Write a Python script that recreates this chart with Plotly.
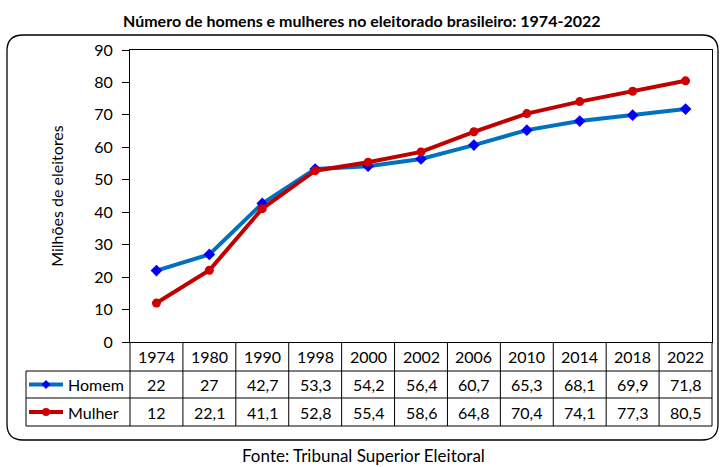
import plotly.graph_objects as go

anos = ["1974", "1980", "1990", "1998", "2000", "2002", "2006", "2010", "2014", "2018", "2022"]
homem = [22, 27, 42.7, 53.3, 54.2, 56.4, 60.7, 65.3, 68.1, 69.9, 71.8]
mulher = [12, 22.1, 41.1, 52.8, 55.4, 58.6, 64.8, 70.4, 74.1, 77.3, 80.5]
homem_txt = ["22", "27", "42,7", "53,3", "54,2", "56,4", "60,7", "65,3", "68,1", "69,9", "71,8"]
mulher_txt = ["12", "22,1", "41,1", "52,8", "55,4", "58,6", "64,8", "70,4", "74,1", "77,3", "80,5"]
y_ticks = [0, 10, 20, 30, 40, 50, 60, 70, 80, 90]

W, H = 723, 467
L, R, T, B = 130, 712, 50, 342
FONT = "Lato"

def px(x):
    return (x - L) / (R - L)

def py(y):
    return (B - y) / (B - T)

fig = go.Figure()
fig.add_trace(go.Scatter(x=anos, y=homem, mode="lines+markers", name="Homem",
                         line=dict(color="#0070C0", width=4),
                         marker=dict(symbol="diamond", size=9, color="#0000FF")))
fig.add_trace(go.Scatter(x=anos, y=mulher, mode="lines+markers", name="Mulher",
                         line=dict(color="#C00000", width=4),
                         marker=dict(symbol="circle", size=9, color="#D00000")))

shapes = []
ann = []

# rounded chart border
x0, x1, y0, y1, r = 7, 718, 35, 440, 16
path = (f"M {px(x0 + r)} {py(y0)} L {px(x1 - r)} {py(y0)} "
        f"Q {px(x1)} {py(y0)} {px(x1)} {py(y0 + r)} "
        f"L {px(x1)} {py(y1 - r)} Q {px(x1)} {py(y1)} {px(x1 - r)} {py(y1)} "
        f"L {px(x0 + r)} {py(y1)} Q {px(x0)} {py(y1)} {px(x0)} {py(y1 - r)} "
        f"L {px(x0)} {py(y0 + r)} Q {px(x0)} {py(y0)} {px(x0 + r)} {py(y0)} Z")
shapes.append(dict(type="path", path=path, xref="paper", yref="paper",
                   line=dict(color="black", width=1.3)))

# data table
rows = [342, 371, 398, 426]
LEG_L = 26
line_kw = dict(color="black", width=1)
for ry in rows[1:]:
    shapes.append(dict(type="line", xref="paper", yref="paper", x0=px(LEG_L), x1=px(R),
                       y0=py(ry), y1=py(ry), line=line_kw))
shapes.append(dict(type="line", xref="paper", yref="paper", x0=px(LEG_L), x1=px(LEG_L),
                   y0=py(rows[1]), y1=py(rows[3]), line=line_kw))
shapes.append(dict(type="line", xref="paper", yref="paper", x0=0, x1=0,
                   y0=py(rows[0]), y1=py(rows[3]), line=line_kw))
shapes.append(dict(type="line", xref="paper", yref="paper", x0=1, x1=1,
                   y0=py(rows[0]), y1=py(rows[3]), line=line_kw))
for i in range(1, len(anos)):
    shapes.append(dict(type="line", xref="x", yref="paper", x0=i - 0.5, x1=i - 0.5,
                       y0=py(rows[0]), y1=py(rows[3]), line=line_kw))

cell_font = dict(family=FONT, size=16, color="black")
centers = [(rows[k] + rows[k + 1]) / 2 for k in range(3)]
for i, a in enumerate(anos):
    for k, txt in enumerate([a, homem_txt[i], mulher_txt[i]]):
        ann.append(dict(x=i, y=py(centers[k]), xref="x", yref="paper", text=txt,
                        xanchor="center", yanchor="middle",
                        showarrow=False, font=cell_font))

# legend keys in table
for name, cy, lc, mc, kind in [("Homem", centers[1], "#0070C0", "#0000FF", "diamond"),
                               ("Mulher", centers[2], "#C00000", "#D00000", "circle")]:
    shapes.append(dict(type="line", xref="paper", yref="paper", x0=px(29), x1=px(63),
                       y0=py(cy), y1=py(cy), line=dict(color=lc, width=4)))
    if kind == "diamond":
        d = 4.5
        p = (f"M {px(46)} {py(cy - d)} L {px(46 + d)} {py(cy)} L {px(46)} {py(cy + d)} "
             f"L {px(46 - d)} {py(cy)} Z")
        shapes.append(dict(type="path", path=p, xref="paper", yref="paper",
                           fillcolor=mc, line=dict(color=mc, width=0)))
    else:
        d = 4
        shapes.append(dict(type="circle", xref="paper", yref="paper",
                           x0=px(46 - d), x1=px(46 + d), y0=py(cy + d), y1=py(cy - d),
                           fillcolor=mc, line=dict(color=mc, width=0)))
    ann.append(dict(x=px(66), y=py(cy), xref="paper", yref="paper", text=name,
                    xanchor="left", yanchor="middle", showarrow=False, font=cell_font))

ann.append(dict(x=px(362), y=py(20), xref="paper", yref="paper",
                text="<b>Número de homens e mulheres no eleitorado brasileiro: 1974-2022</b>",
                xanchor="center", yanchor="middle",
                showarrow=False, font=dict(family=FONT, size=16, color="black")))
ann.append(dict(x=px(363), y=py(455), xref="paper", yref="paper",
                text="Fonte: Tribunal Superior Eleitoral",
                xanchor="center", yanchor="middle",
                showarrow=False, font=dict(family=FONT, size=17, color="black")))

fig.update_layout(
    width=W, height=H,
    margin=dict(l=L, r=W - R, t=T, b=H - B, pad=0),
    paper_bgcolor="white", plot_bgcolor="white",
    showlegend=False,
    shapes=shapes, annotations=ann,
    font=dict(family=FONT, size=15, color="black"),
    xaxis=dict(type="category", range=[-0.5, len(anos) - 0.5], showticklabels=False,
               ticks="", showgrid=False, zeroline=False, showline=True, automargin=False,
               linecolor="black", linewidth=1, mirror=True),
    yaxis=dict(range=[0, 90], tickvals=y_ticks, ticks="outside", ticklen=7,
               tickcolor="black", showgrid=False, zeroline=False, showline=True,
               linecolor="black", linewidth=1, mirror=True, automargin=False,
               ticklabelstandoff=6,
               tickfont=dict(family=FONT, size=16),
               title=dict(text="Milhões de eleitores", standoff=26,
                          font=dict(family=FONT, size=16))),
)

fig.write_html("out.html", config={"displayModeBar": False},
               post_script="document.body.style.margin='0';")
